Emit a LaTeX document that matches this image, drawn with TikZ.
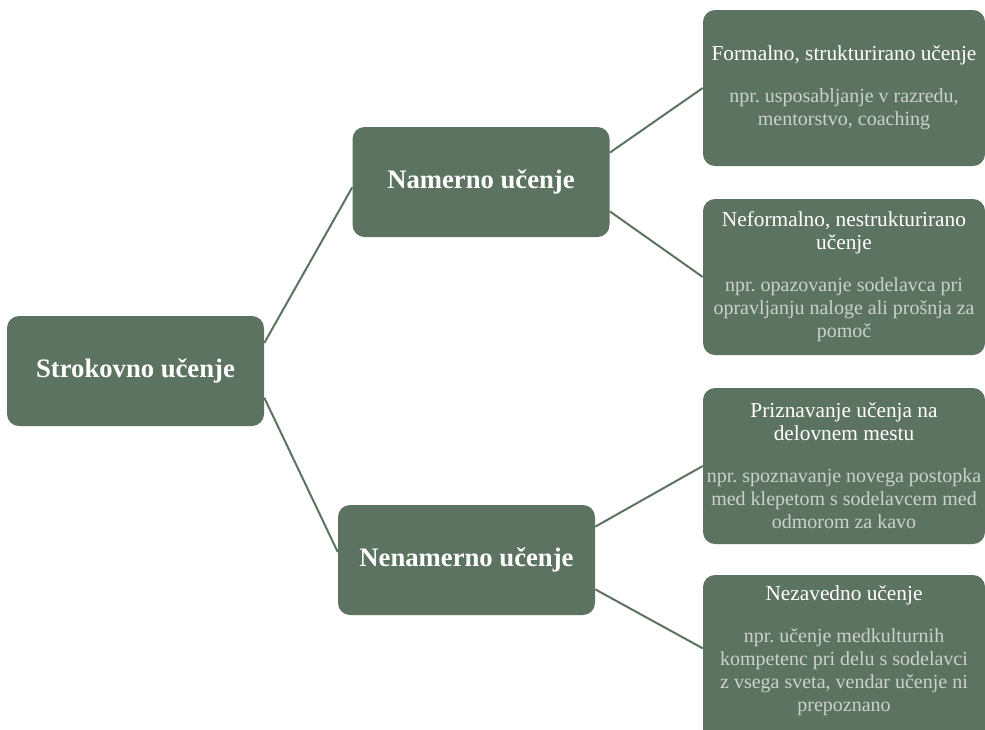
\documentclass[tikz,border=0pt]{standalone}
\usepackage{fontspec}
\setmainfont{Liberation Serif}
\definecolor{boxgreen}{RGB}{93,115,97}
\definecolor{subgray}{RGB}{203,209,204}
\newcommand{\subtxt}{\color{subgray}\fontsize{15}{16.8}\selectfont}

\begin{document}
\begin{tikzpicture}[x=0.75pt,y=-0.75pt,
  box/.style={fill=boxgreen, rounded corners=9pt, text=white, align=center, inner sep=0pt},
  mainbox/.style={box, minimum width=192.75pt, minimum height=82.5pt, font=\fontsize{20}{24}\selectfont\bfseries},
  leafbox/.style={box, minimum width=211.5pt, minimum height=117pt, font=\fontsize{16}{17.3}\selectfont},
  link/.style={draw=boxgreen, line width=1.5pt}]
  \useasboundingbox (0,0) rectangle (985,729);
  \node[mainbox] (root) at (135.5,371) {Strokovno učenje};
  \node[mainbox] (namerno) at (481,182) {Namerno učenje};
  \node[mainbox] (nenamerno) at (466.5,560) {Nenamerno učenje};
  \node[leafbox] (formal) at (844,88) {Formalno, strukturirano učenje\\[14pt]
    \subtxt npr.\ usposabljanje v razredu,\\ \subtxt mentorstvo, coaching};
  \node[leafbox] (neformal) at (844,277) {Neformalno, nestrukturirano\\ učenje\\[14pt]
    \subtxt npr.\ opazovanje sodelavca pri\\ \subtxt opravljanju naloge ali prošnja za\\ \subtxt pomoč};
  \node[leafbox] (priznavanje) at (844,466) {Priznavanje učenja na\\ delovnem mestu\\[14pt]
    \subtxt npr.\ spoznavanje novega postopka\\ \subtxt med klepetom s sodelavcem med\\ \subtxt odmorom za kavo};
  \node[leafbox, minimum height=132pt, text depth=21pt] (nezavedno) at (844,663) {Nezavedno učenje\\[14pt]
    \subtxt npr.\ učenje medkulturnih\\ \subtxt kompetenc pri delu s sodelavci\\ \subtxt z vsega sveta, vendar učenje ni\\ \subtxt prepoznano};
  % connectors
  \draw[link] ([yshift=21pt]root.east) -- ([yshift=-4pt]namerno.west);
  \draw[link] ([yshift=-20pt]root.east) -- ([yshift=6pt]nenamerno.west);
  \draw[link] ([yshift=22pt]namerno.east) -- (formal.west);
  \draw[link] ([yshift=-22pt]namerno.east) -- (neformal.west);
  \draw[link] ([yshift=25pt]nenamerno.east) -- (priznavanje.west);
  \draw[link] ([yshift=-22pt]nenamerno.east) -- ([yshift=11pt]nezavedno.west);
\end{tikzpicture}
\end{document}
